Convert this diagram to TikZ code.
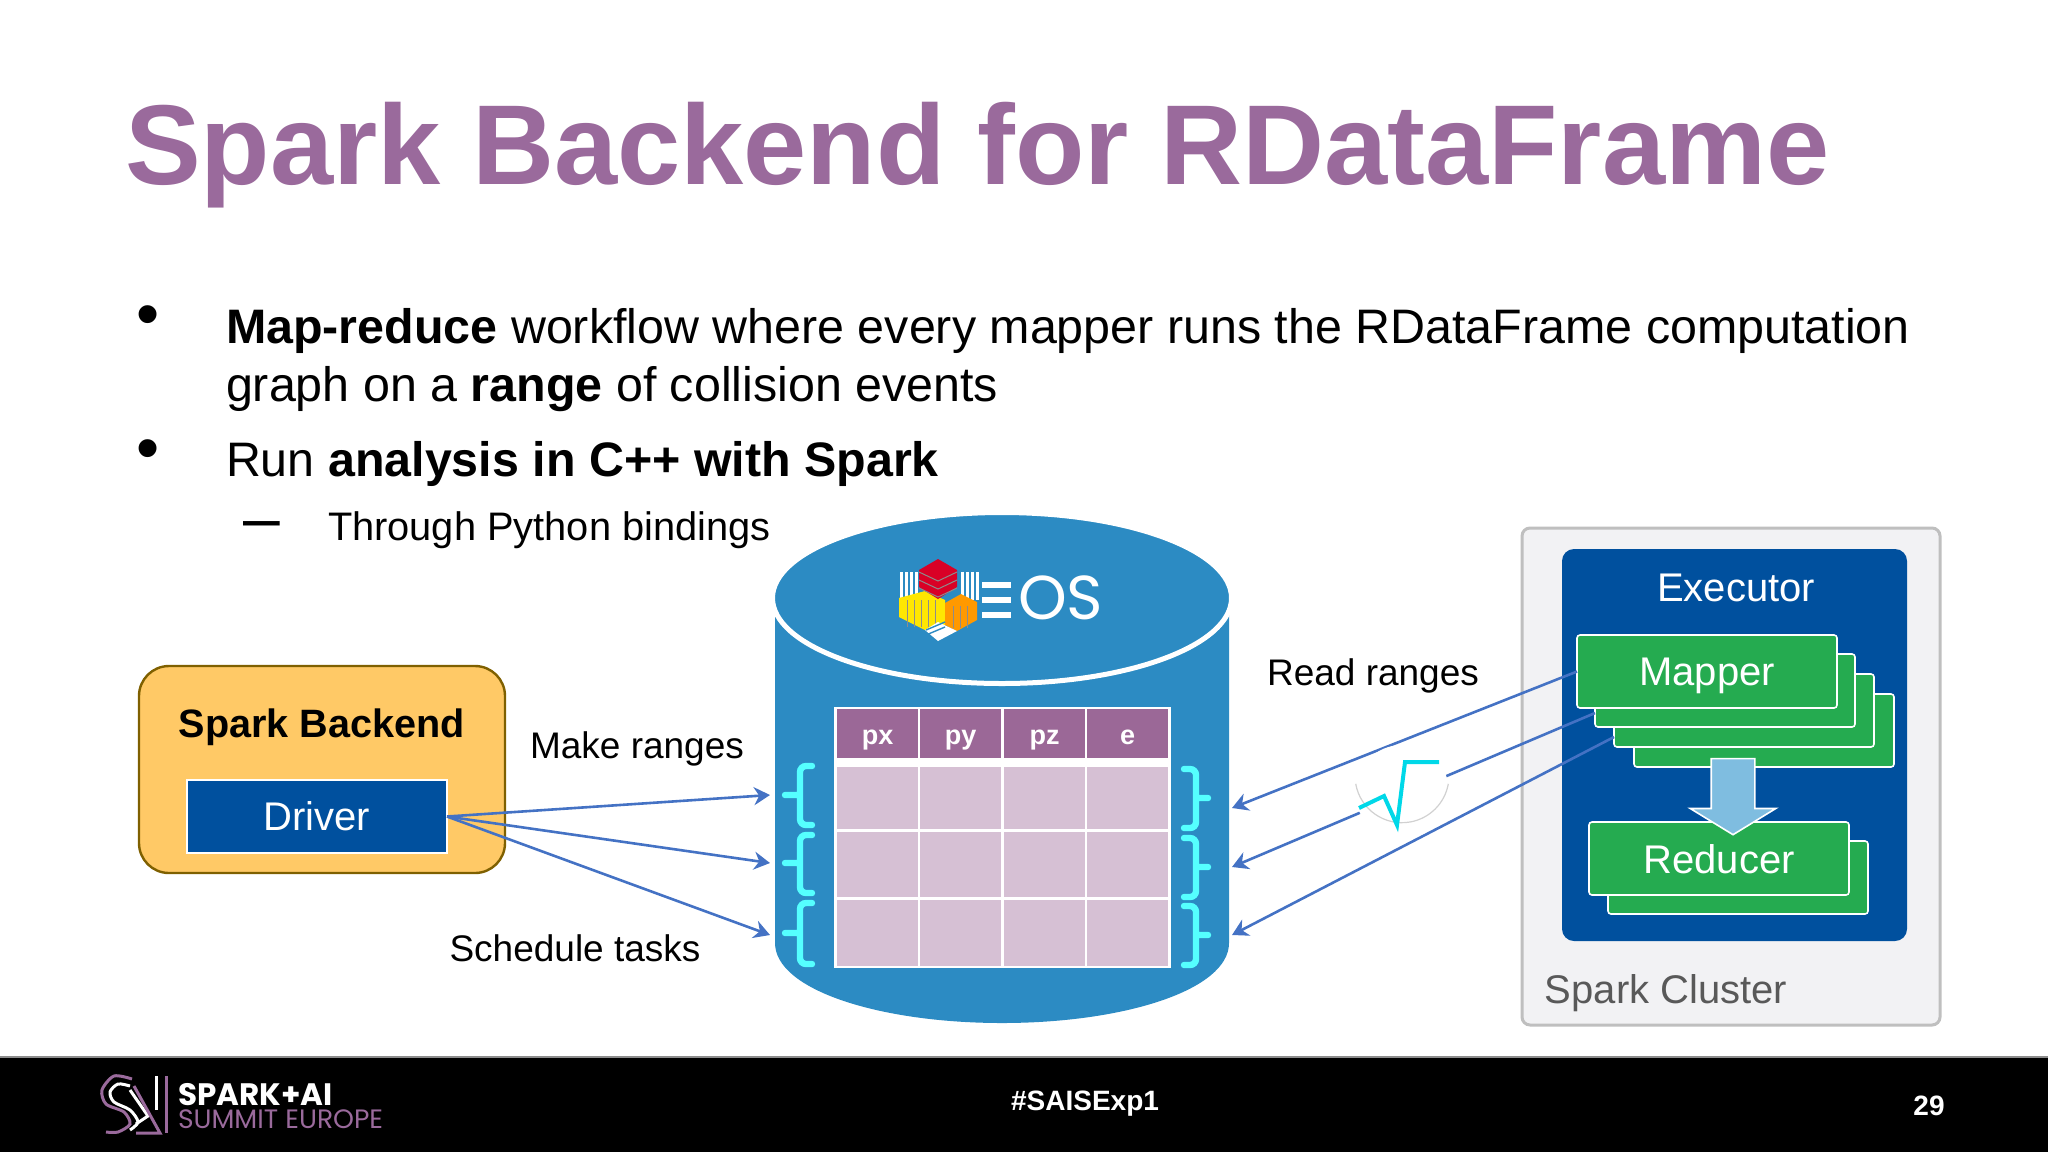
\documentclass[tikz,border=0pt]{standalone}
\usepackage{fontspec}
\setmainfont{Liberation Sans}
\newfontfamily\logofont{Poppins}
\usepackage{xcolor}
\usepackage{tikz}
\usetikzlibrary{shapes.arrows,positioning,arrows.meta}
\definecolor{sparkpurple}{HTML}{9A6A9C}
\definecolor{cellpurple}{HTML}{D6C0D4}
\definecolor{headpurple}{HTML}{9B6897}
\definecolor{eosblue}{HTML}{2C8BC3}
\definecolor{execblue}{HTML}{00509E}
\definecolor{mapgreen}{HTML}{25AB50}
\definecolor{linkblue}{HTML}{4472C4}
\definecolor{bracecyan}{HTML}{55FFFF}
\definecolor{backorange}{HTML}{FFC966}
\definecolor{backedge}{HTML}{7F6000}
\definecolor{mergeblue}{HTML}{7FBDE0}
\definecolor{tickcyan}{HTML}{00D8E8}
\definecolor{clustergrey}{HTML}{F2F2F4}

\begin{document}
\begin{tikzpicture}[
    x=0.5pt, y=-0.5pt,
    plain/.style={inner sep=0pt, outer sep=0pt},
    bodytext/.style={plain, anchor=base west, font=\fontsize{24.2}{28}\selectfont},
    bulletmark/.style={plain, anchor=base, font=\fontsize{33}{36}\selectfont},
    label/.style={plain, font=\fontsize{18.5}{22}\selectfont},
    cell/.style={plain, anchor=north west, fill=cellpurple, minimum width=40.5pt, minimum height=32pt},
    headcell/.style={plain, anchor=north west, fill=headpurple, text=white, minimum width=40.5pt, minimum height=24.5pt, text height=10.5pt, text depth=0pt, font=\fontsize{13.5}{16}\bfseries\selectfont},
    greenbox/.style={plain, anchor=north west, fill=mapgreen, draw=white, line width=0.8pt, rounded corners=1.5pt, minimum width=130pt, minimum height=36.5pt, text depth=0pt, text=white, font=\fontsize{20}{24}\selectfont},
    link/.style={linkblue, line width=1.3pt, -{Stealth[length=8pt,width=9pt]}},
    curly/.style={bracecyan, line width=3.2pt, line cap=round}
]
    \useasboundingbox (0,0) rectangle (2048,1152);

    % header and bullets
    \node[plain, anchor=base west, text=sparkpurple, font=\fontsize{56.8}{60}\bfseries\selectfont] (title) at (125,184) {Spark Backend for RDataFrame};
    \node[bulletmark] (bulleta) at (148,336) {•};
    \node[bulletmark] (bulletb) at (148,470) {•};
    \node[bulletmark] (dash) at (262,540) {–};
    \node[bodytext] (linea) at (226,343) {\textbf{Map-reduce} workflow where every mapper runs the RDataFrame computation};
    \node[bodytext] (lineb) at (226,401) {graph on a \textbf{range} of collision events};
    \node[bodytext] (linec) at (226,476) {Run \textbf{analysis in C++ with Spark}};
    \node[bodytext, font=\fontsize{19.9}{24}\selectfont] (lined) at (328,540) {Through Python bindings};

    % storage cylinder
    \fill[eosblue] (775,598) -- (775,943) .. controls (775,990) and (880,1023) .. (1002,1023)
        .. controls (1124,1023) and (1229,990) .. (1229,943) -- (1229,598) -- cycle;
    \draw[white, line width=2.5pt, fill=eosblue] (1002,598) ellipse [x radius=229.5, y radius=85.5];

    % eos logo
    \foreach \x in {900,905,910,915,961,966,971,976}
        \fill[white] (\x,572) rectangle (\x+3,600);
    \fill[yellow!90!orange] (899,598) -- (925,591) -- (945,600) -- (945,625) -- (925,630) -- (899,617) -- cycle;
    \fill[orange!80!yellow] (945,603) -- (961,594) -- (977,602) -- (977,620) -- (957,631) -- (945,625) -- cycle;
    \foreach \x in {907,914,921,928,935}
        \draw[black!45, line width=0.5pt] (\x,600) -- (\x,627);
    \foreach \x in {953,960,967}
        \draw[black!45, line width=0.5pt] (\x,606) -- (\x,628);
    \fill[white] (925,630) -- (938,622) -- (957,631) -- (938,641) -- cycle;
    \foreach \y in {628,633}
        \draw[eosblue, line width=0.7pt] (926,\y+2) -- (945,\y-6);
    \fill[red!85!blue] (938,559) -- (957,570) -- (957,587) -- (938,599) -- (919,587) -- (919,570) -- cycle;
    \foreach \y in {569,577,585}
        \draw[black!45, line width=0.5pt] (919,\y+3) -- (938,\y+12) -- (957,\y+3);
    \foreach \y in {582,597,612}
        \fill[white] (982,\y) rectangle (1011,\y+6);
    \node[plain, anchor=base west, text=white, font=\logofont\fontsize{31}{34}\selectfont] (eos) at (1018,619) {OS};

    % table of events
    \fill[white] (834,707) rectangle (1171,968);
    \node[headcell] (px) at (837,709) {px};
    \node[headcell] (py) at (920,709) {py};
    \node[headcell] (pz) at (1004,709) {pz};
    \node[headcell] (en) at (1087,709) {e};
    \foreach \x in {837,920,1004,1087} {
        \node[cell, minimum height=31pt] at (\x,767) {};
        \node[cell, minimum height=32.5pt] at (\x,832) {};
        \node[cell, minimum height=33pt] at (\x,900) {};
    }

    % ranges on both sides
    \foreach \t/\m/\b in {766/795/825,835/863/893,903/933/964}
        \draw[curly, rounded corners=3pt] (812,\t) -- (800,\t) -- (800,\b) -- (812,\b) (785,\m) -- (798,\m);
    \foreach \t/\m/\b in {769/798/828,838/867/897,906/935/965}
        \draw[curly, rounded corners=3pt] (1184,\t) -- (1196,\t) -- (1196,\b) -- (1184,\b) (1198,\m) -- (1208,\m);

    % backend
    \node[plain, anchor=north west, fill=backorange, draw=backedge, line width=1.2pt, rounded corners=15pt, minimum width=183pt, minimum height=103.5pt] (backend) at (139,666) {};
    \node[plain, font=\fontsize{19.8}{24}\bfseries\selectfont] (backendname) at (322,727) {Spark Backend};
    \node[plain, anchor=north west, fill=execblue, draw=white, line width=0.8pt, text=white, minimum width=130pt, minimum height=36.5pt, font=\fontsize{20}{24}\selectfont] (driver) at (187,780) {Driver};

    % cluster
    \node[plain, anchor=north west, fill=clustergrey, draw=black!25, line width=1.5pt, rounded corners=4pt, minimum width=209pt, minimum height=248.5pt] (cluster) at (1522,528) {};
    \node[plain, anchor=north west, fill=execblue, rounded corners=6pt, minimum width=172.5pt, minimum height=196pt] (executor) at (1562,549) {};
    \node[plain, text=white, font=\fontsize{20}{24}\selectfont] (executorname) at (1736,588) {Executor};
    \node[plain, text=black!65, font=\fontsize{20}{24}\selectfont] (clustername) at (1666,993) {Spark Cluster};
    \node[greenbox] (mapperd) at (1634,694) {};
    \node[greenbox] (mapperc) at (1614,674) {};
    \node[greenbox] (mapperb) at (1595,654) {};
    \node[greenbox] (mappera) at (1577,635) {Mapper};
    \node[greenbox] (reducerb) at (1608,841) {};
    \node[greenbox] (reducera) at (1589,822) {Reducer};
    \node[plain, inner ysep=10.5pt, inner xsep=0pt, single arrow, rotate=-90, fill=mergeblue, draw=white, line width=0.8pt,
        minimum height=38pt, single arrow head extend=10.5pt, single arrow tip angle=117] (merge) at (1733,790) {};

    \coordinate (mapperbout) at (1595,713);
    \coordinate (mappercout) at (1614,737);
    \coordinate (lefta) at (770,795);
    \coordinate (leftb) at (770,863);
    \coordinate (leftc) at (770,935);
    \coordinate (righta) at (1232,808);
    \coordinate (rightb) at (1232,867);
    \coordinate (rightc) at (1232,935);

    \draw[link] (driver.east) -- (lefta);
    \draw[link] (driver.east) -- (leftb);
    \draw[link] (driver.east) -- (leftc);
    \draw[link] (mappera.west) -- (righta);
    \draw[link] (mapperbout) -- (rightb);
    \draw[link] (mappercout) -- (rightc);

    % spinner over the links
    \node[plain, circle, fill=white, minimum size=47pt] (spinner) at (1402,792) {};
    \draw[black!18, line width=0.6pt] (spinner.170) arc [start angle=170, end angle=10, radius=47];
    \draw[tickcyan, line width=2pt] (1359,808) -- (1384,796) -- (1397,825) -- (1405,762) -- (1439,762);

    \node[label] (makeranges) at (637,749) {Make ranges};
    \node[label] (schedule) at (575,948) {Schedule tasks};
    \node[label] (readranges) at (1373,676) {Read ranges};

    % footer
    \fill[black!45] (0,1056) rectangle (2048,1058);
    \fill[black] (0,1058) rectangle (2048,1152);
    \draw[sparkpurple, line width=1.5pt] plot[smooth] coordinates {(132,1079) (114,1076) (102,1090) (106,1104) (124,1112) (130,1124) (118,1132) (106,1132)};
    \draw[white, line width=1.5pt] plot[smooth] coordinates {(130,1086) (118,1084) (110,1092) (114,1102) (130,1110) (138,1122) (130,1130)};
    \draw[white, line width=1.5pt] (130,1090) -- (148,1116) -- (136,1124);
    \draw[sparkpurple, line width=1.5pt] (134,1086) -- (160,1133) -- (136,1133);
    \draw[white, line width=1.5pt] (156,1076) -- (156,1110);
    \draw[sparkpurple, line width=1.5pt] (166,1076) -- (166,1133);
    \node[plain, anchor=base west, text=white, font=\logofont\fontsize{15.5}{18}\bfseries\selectfont] (sparkai) at (178,1105) {SPARK+AI};
    \node[plain, anchor=base west, text=sparkpurple, font=\logofont\fontsize{13.3}{15}\selectfont] (summit) at (178,1128) {SUMMIT EUROPE};
    \node[plain, text=white, font=\fontsize{14}{17}\bfseries\selectfont] (hashtag) at (1085,1104) {\#SAISExp1};
    \node[plain, text=white, font=\fontsize{14}{17}\bfseries\selectfont] (pagenum) at (1929,1106) {29};
\end{tikzpicture}
\end{document}
